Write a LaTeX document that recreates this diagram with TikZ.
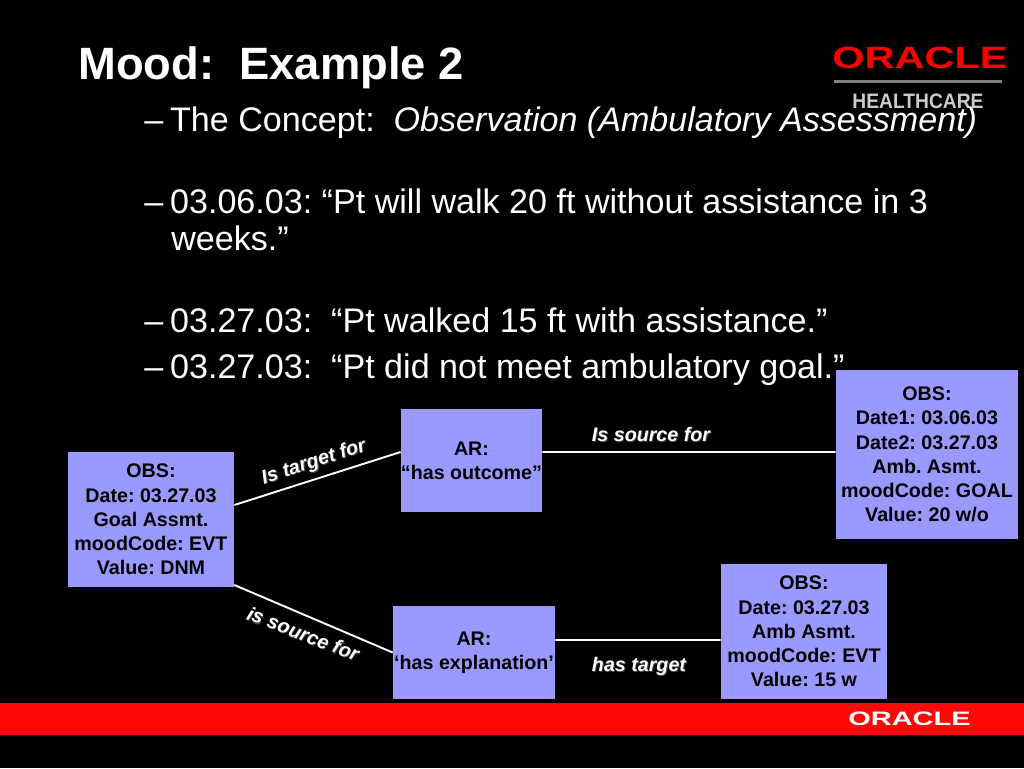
\documentclass[tikz,border=0pt]{standalone}
\usepackage{fontspec}
\setmainfont{Liberation Sans}
\frenchspacing
\definecolor{boxblue}{RGB}{153,153,255}
\definecolor{barred}{RGB}{255,8,8}
\definecolor{shadegray}{RGB}{70,70,70}
\tikzset{
	slidebox/.style={draw=none, fill=boxblue, text=black, align=center, inner sep=0pt, font=\fontsize{11.2}{13.8}\selectfont\bfseries},
	bullet/.style={anchor=base west, inner sep=0pt, text=white, font=\fontsize{19.4}{21}\selectfont},
	linklabel/.style={inner sep=0pt, text=white, font=\fontsize{11.2}{12}\selectfont\bfseries\itshape},
	linkline/.style={draw=white, line width=1.1pt}
}
\newcommand{\shadetext}[1]{\leavevmode\rlap{\kern0.5pt\raisebox{-0.5pt}{\textcolor{shadegray}{#1}}}#1}
\begin{document}
\begin{tikzpicture}[x=0.02cm, y=-0.02cm]
	%%%%% BACKGROUND %%%%%
	\fill[black] (0, 0) rectangle (1024, 768);
	\useasboundingbox (0, 0) rectangle (1024, 768);
	\fill[barred] (0, 703) rectangle (1024, 734.5);

	%%%%% LOGOS %%%%%
	\node[inner sep=0pt, text=red, font=\fontsize{17.5}{18}\selectfont\bfseries, xscale=1.35] (logotop) at (920, 58) {ORACLE};
	\draw[draw=black!50, line width=2pt] (834, 81.5) -- (1002, 81.5);
	\node[inner sep=0pt, text=white!80!black, font=\fontsize{11.9}{12}\selectfont\bfseries, xscale=0.92] (logosub) at (918, 101) {HEALTHCARE};
	\node[inner sep=0pt, text=white, font=\fontsize{11.1}{11}\selectfont\bfseries, xscale=1.485] (logobar) at (909.5, 719) {ORACLE};

	%%%%% TEXT %%%%%
	\node[bullet, font=\fontsize{25.8}{28}\selectfont\bfseries] (title) at (78, 79) {Mood:\ \ Example 2};
	\node[bullet] (lineone) at (144, 131) {–\kern3.9pt The Concept:\ \ \textit{Observation (Ambulatory Assessment)}};
	\node[bullet] (linetwo) at (144, 213) {–\kern3.9pt 03.06.03: “Pt will walk 20 ft without assistance in 3};
	\node[bullet] (linetwob) at (171, 250) {weeks.”};
	\node[bullet] (linethree) at (144, 332) {–\kern3.9pt 03.27.03:\ \ “Pt walked 15 ft with assistance.”};
	\node[bullet] (linefour) at (144, 378) {–\kern3.9pt 03.27.03:\ \ “Pt did not meet ambulatory goal.”};

	%%%%% BOXES %%%%%
	\node[slidebox, minimum width=3.32cm, minimum height=2.7cm] (obsdnm) at (151, 519.5) {OBS:\\Date: 03.27.03\\Goal Assmt.\\moodCode: EVT\\Value: DNM};
	\node[slidebox, minimum width=2.82cm, minimum height=2.06cm] (arout) at (471.5, 460.5) {AR:\\“has outcome”};
	\node[slidebox, minimum width=3.24cm, minimum height=1.86cm] (arexp) at (474, 652.5) {AR:\\‘has explanation’};
	\node[slidebox, minimum width=3.64cm, minimum height=3.38cm] (obsgoal) at (927, 454.5) {OBS:\\Date1: 03.06.03\\Date2: 03.27.03\\Amb. Asmt.\\moodCode: GOAL\\Value: 20 w/o};
	\node[slidebox, minimum width=3.32cm, minimum height=2.7cm] (obsevt) at (804, 631.5) {OBS:\\Date: 03.27.03\\Amb Asmt.\\moodCode: EVT\\Value: 15 w};

	%%%%% LINKS %%%%%
	\draw[linkline] ([yshift=0.29cm]obsdnm.east) -- ([yshift=0.17cm]arout.west);
	\draw[linkline] ([yshift=-1.31cm]obsdnm.east) -- (arexp.west);
	\draw[linkline] ([yshift=0.17cm]arout.east) -- ([yshift=0.05cm]obsgoal.west);
	\draw[linkline] ([yshift=0.25cm]arexp.east) -- ([yshift=-0.17cm]obsevt.west);

	\node[linklabel, rotate=18] (targetlabel) at (314, 463) {\shadetext{Is target for}};
	\node[linklabel] (sourcelabel) at (651, 435) {\shadetext{Is source for}};
	\node[linklabel, rotate=-21] (sourcelabelb) at (303, 634) {\shadetext{is source for}};
	\node[linklabel] (hastarget) at (639, 667) {\shadetext{has target}};
\end{tikzpicture}
\end{document}
